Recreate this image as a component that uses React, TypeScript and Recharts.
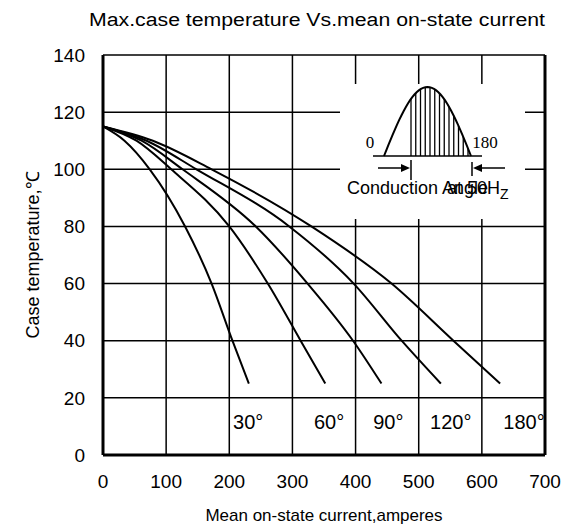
import { LineChart, Line, XAxis, YAxis, CartesianGrid, ReferenceLine, ReferenceDot, Customized } from 'recharts'

// axis ticks
const xTicks = [0, 100, 200, 300, 400, 500, 600, 700]
const yTicks = [0, 20, 40, 60, 80, 100, 120, 140]

// case temperature vs mean current, one array per conduction angle
const curve30 = [
  { x: 0, y: 115 }, { x: 34, y: 110 }, { x: 74, y: 100 }, { x: 130, y: 80 },
  { x: 172, y: 60 }, { x: 205, y: 40 }, { x: 231, y: 25 },
]
const curve60 = [
  { x: 0, y: 115 }, { x: 53, y: 110 }, { x: 108, y: 100 }, { x: 200, y: 80 },
  { x: 261, y: 60 }, { x: 313, y: 40 }, { x: 352, y: 25 },
]
const curve90 = [
  { x: 0, y: 115 }, { x: 61, y: 110 }, { x: 126, y: 100 }, { x: 242, y: 80 },
  { x: 324, y: 60 }, { x: 396, y: 40 }, { x: 441, y: 25 },
]
const curve120 = [
  { x: 0, y: 115 }, { x: 69, y: 110 }, { x: 148, y: 100 }, { x: 295, y: 80 },
  { x: 397, y: 60 }, { x: 473, y: 40 }, { x: 535, y: 25 },
]
const curve180 = [
  { x: 0, y: 115 }, { x: 79, y: 110 }, { x: 172, y: 100 }, { x: 330, y: 80 },
  { x: 457, y: 60 }, { x: 555, y: 40 }, { x: 629, y: 25 },
]
const curves = [curve30, curve60, curve90, curve120, curve180]

// angle labels along the bottom row
const angleLabels = ['30°', '60°', '90°', '120°', '180°']
const angleLabelX = [206, 334, 428, 518, 634]
const angleLabelY = 11.5

const font = '"Liberation Sans", Arial, sans-serif'

function Title() {
  return (
    <text x={317} y={26} textAnchor="middle" fontSize={18} fill="#000" fontFamily={font} textLength={456} lengthAdjust="spacingAndGlyphs">
      Max.case temperature Vs.mean on-state current
    </text>
  )
}

// small waveform sketch in the upper right, on a white patch over the grid
function Inset() {
  const x0 = 384
  const x1 = 471
  const base = 156
  const amp = 69
  const hatch: number[] = []
  for (let i = 0; i < 13; i++) hatch.push(411 + i * 4.75)
  const pts: string[] = []
  for (let i = 0; i <= 40; i++) {
    const x = x0 + ((x1 - x0) * i) / 40
    pts.push(`${x},${base - amp * Math.sin((Math.PI * i) / 40)}`)
  }
  return (
    <svg width={576} height={529} style={{ position: 'absolute', left: 0, top: 0, pointerEvents: 'none' }}>
      <rect x={340} y={84} width={185} height={135} fill="#fff" />
      <g stroke="#000" fill="none">
        <line x1={373} y1={base} x2={482} y2={base} strokeWidth={1.5} />
        <polyline points={pts.join(' ')} strokeWidth={2} />
        {hatch.map((x) => (
          <line key={x} x1={x} y1={base} x2={x} y2={base - amp * Math.sin((Math.PI * (x - x0)) / (x1 - x0))} strokeWidth={1.3} />
        ))}
        <text x={370} y={148} textAnchor="middle" fontSize={17} fill="#000" stroke="none" fontFamily="'Liberation Serif', serif">0</text>
        <text x={485} y={148} textAnchor="middle" fontSize={17} fill="#000" stroke="none" fontFamily="'Liberation Serif', serif">180</text>
        <line x1={378} y1={168} x2={402} y2={168} strokeWidth={1.5} />
        <polygon points="401,164 410,168 401,172" fill="#000" stroke="none" />
        <line x1={411} y1={160} x2={411} y2={180} strokeWidth={1.5} />
        <line x1={505} y1={168} x2={481} y2={168} strokeWidth={1.5} />
        <polygon points="482,164 473,168 482,172" fill="#000" stroke="none" />
        <line x1={472} y1={162} x2={472} y2={176} strokeWidth={1.5} />
        <text x={347} y={194} fontSize={18} fill="#000" stroke="none" fontFamily={font}>Conduction Angle</text>
        <text x={447} y={194} fontSize={18} fill="#000" stroke="none" fontFamily={font}>
          at 50H<tspan fontSize={14} dy={5}>Z</tspan>
        </text>
      </g>
    </svg>
  )
}

export default function App() {
  return (
    <div style={{ position: 'absolute', left: 0, top: 0, width: 576, height: 529, background: '#fff', fontFamily: font }}>
      <LineChart width={576} height={529} margin={{ top: 55, right: 31, bottom: 0, left: 20 }}>
        <CartesianGrid stroke="#000" strokeWidth={1.5} horizontalValues={yTicks} verticalValues={xTicks} />
        <XAxis
          type="number"
          dataKey="x"
          domain={[0, 700]}
          ticks={xTicks}
          interval={0}
          height={74}
          tickLine={false}
          tickMargin={14}
          axisLine={{ stroke: '#000', strokeWidth: 3 }}
          tick={{ fill: '#000', fontSize: 19 }}
          label={{ value: 'Mean on-state current,amperes', position: 'insideBottom', offset: 8, fill: '#000', fontSize: 17 }}
        />
        <YAxis
          type="number"
          dataKey="y"
          domain={[0, 140]}
          ticks={yTicks}
          interval={0}
          width={83}
          tickLine={false}
          tickMargin={12}
          axisLine={{ stroke: '#000', strokeWidth: 3 }}
          tick={{ fill: '#000', fontSize: 19 }}
          label={{ value: 'Case temperature,℃', angle: -90, position: 'insideLeft', offset: 13, fill: '#000', fontSize: 18, style: { textAnchor: 'middle' } }}
        />
        <ReferenceLine x={700} stroke="#000" strokeWidth={3} />
        {curves.map((c, i) => (
          <Line
            key={i}
            data={c}
            dataKey="y"
            type="monotone"
            stroke="#000"
            strokeWidth={2}
            dot={false}
            activeDot={false}
            isAnimationActive={false}
          />
        ))}
        {angleLabels.map((t, i) => (
          <ReferenceDot
            key={t}
            x={angleLabelX[i]}
            y={angleLabelY}
            r={0}
            fill="none"
            stroke="none"
            label={{ value: t, position: 'right', offset: 0, fill: '#000', fontSize: 20 }}
          />
        ))}
        <Customized component={Title} />
      </LineChart>
      <Inset />
    </div>
  )
}
